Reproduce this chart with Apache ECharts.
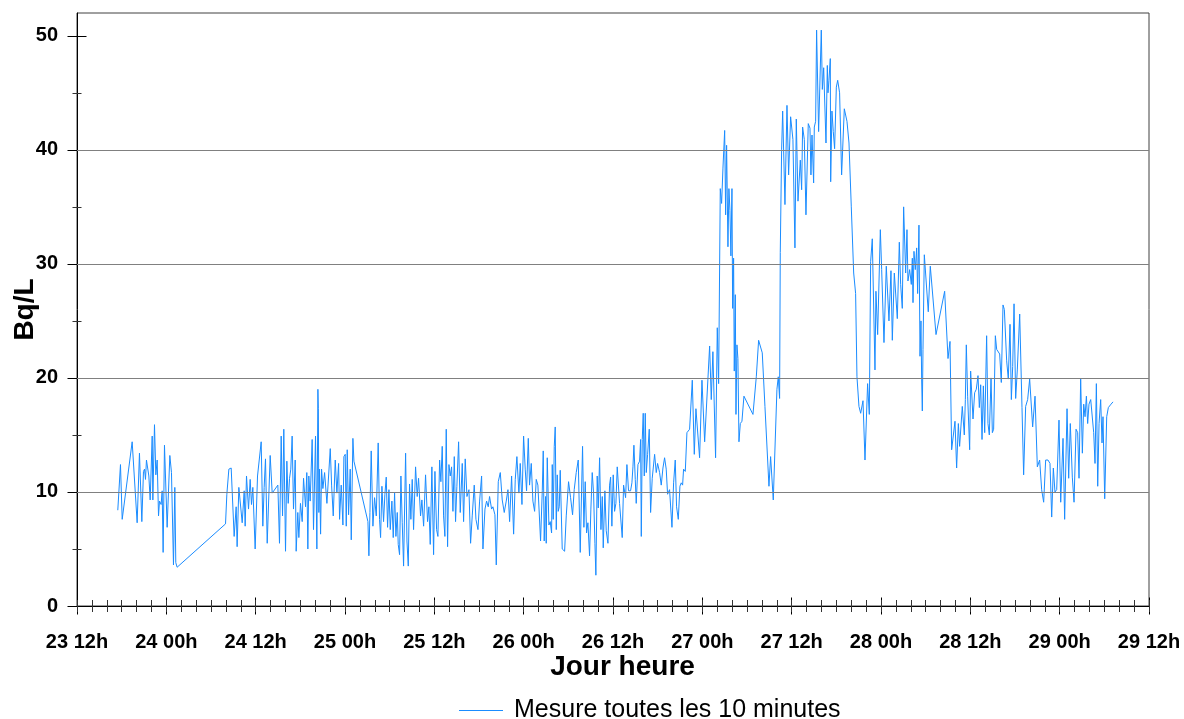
<!DOCTYPE html>
<html>
<head>
<meta charset="utf-8">
<script src="https://cdn.jsdelivr.net/npm/echarts@6/dist/echarts.min.js"></script>
<style>
html,body{margin:0;padding:0;background:#fff;}
#chart{width:1184px;height:719px;}
</style>
</head>
<body>
<div id="chart"></div>
<script>
// Hours counted from day 23 00h
const hours = [
17.48,17.71,17.84,17.93,18.07,19.41,20.08,20.39,20.71,20.93,21.07,21.20,21.33,21.65,21.83,22.10,22.19,22.41,22.59,22.77,22.95,23.08,23.30,23.44,23.57,23.75,24.11,24.29,24.47,24.69,24.83,24.96,25.14,25.27,25.45,
31.95,32.13,32.40,32.71,32.89,33.11,33.38,33.51,33.74,33.87,34.19,34.46,34.59,34.77,35.04,35.26,35.44,35.62,35.93,36.25,36.74,36.96,37.14,37.32,37.55,37.95,38.22,38.98,39.20,39.43,39.61,39.78,40.01,40.19,40.37,40.55,40.72,40.90,41.08,41.31,41.44,41.66,41.80,42.02,42.25,42.43,42.70,42.87,43.01,43.14,43.32,43.59,43.77,44.04,44.22,44.36,44.42,
44.49,44.58,44.72,44.85,45.03,45.26,45.57,46.02,46.20,46.42,46.69,46.91,47.14,47.27,47.49,47.72,47.85,48.03,48.17,48.30,48.48,48.70,48.84,49.06,49.20,
51.08,51.21,51.35,51.52,51.75,51.97,52.20,52.46,52.64,52.78,52.96,53.18,53.36,53.54,53.72,53.90,54.08,54.30,54.48,54.66,54.84,55.02,55.15,55.33,55.51,55.69,55.87,56.14,56.32,56.50,56.67,56.85,57.03,57.21,57.48,57.70,57.88,58.15,58.33,58.56,58.82,59.09,59.27,59.45,59.67,59.90,
60.08,60.30,60.48,60.71,60.88,61.06,61.24,61.42,61.60,61.78,61.96,62.14,62.32,62.50,62.68,62.85,63.03,63.26,63.48,63.75,63.93,64.15,64.38,64.65,64.87,65.09,65.36,65.59,65.86,66.08,66.35,66.53,66.80,67.02,67.24,67.42,67.69,67.87,68.14,68.32,68.59,68.86,69.12,69.39,69.66,69.89,70.11,70.38,70.65,70.87,71.09,71.36,71.54,71.77,71.99,72.21,72.39,72.62,
72.79,73.02,73.24,73.47,73.69,73.91,74.14,74.27,74.50,74.63,74.76,74.94,75.03,75.17,75.39,75.57,75.75,75.84,75.97,76.11,76.24,76.38,76.51,76.64,76.78,76.91,77.18,77.50,77.72,78.03,78.30,78.57,78.79,79.06,79.33,79.60,79.91,
80.09,80.27,80.45,80.63,80.85,81.03,81.21,81.39,81.57,81.70,81.88,82.02,82.20,82.38,82.56,82.69,82.91,83.09,83.32,83.54,83.68,83.85,84.03,84.21,84.39,84.57,84.88,85.24,85.42,85.69,85.87,86.09,86.36,86.54,86.68,86.81,86.99,87.12,87.35,87.57,87.71,87.80,87.93,88.06,88.20,88.33,88.47,88.65,88.87,89.05,89.27,89.59,89.81,89.99,
90.26,90.48,90.71,90.93,91.15,91.33,91.60,91.74,91.92,92.14,92.36,92.54,92.77,92.99,93.17,93.35,93.48,93.71,93.93,94.29,
94.65,94.92,95.14,95.63,95.95,96.31,96.98,97.20,97.42,97.78,98.01,98.19,98.41,98.59,98.77,99.00,99.13,99.26,99.44,99.57,99.71,99.84,99.98,100.07,100.20,100.29,100.43,100.52,100.65,100.78,100.92,101.10,101.32,101.59,102.80,103.25,103.56,104.05,104.41,104.95,105.17,105.53,106.02,106.20,106.38,
106.47,106.65,106.79,107.10,107.37,107.59,107.86,108.17,108.44,108.62,108.85,109.16,109.34,109.47,109.70,109.92,110.23,110.46,110.59,110.73,110.95,111.04,111.22,111.35,111.62,111.98,112.12,112.30,112.47,112.61,112.79,112.88,113.01,113.19,113.24,113.41,113.59,113.77,114.00,114.18,114.44,114.71,115.07,115.43,115.70,116.01,116.33,116.59,116.77,117.04,117.27,
117.58,117.85,118.20,118.43,118.61,118.83,119.19,119.32,119.55,119.91,120.09,120.22,120.40,120.71,121.07,121.34,121.52,121.79,122.19,122.46,122.64,122.86,123.04,123.31,123.49,123.62,123.85,124.07,124.21,124.30,124.43,124.61,124.79,124.92,125.10,125.24,125.37,125.46,125.55,125.64,125.82,126.04,126.35,126.62,127.39,128.55,129.00,129.27,129.49,129.94,130.16,130.39,130.56,130.92,131.19,131.33,131.46,131.64,131.91,132.04,132.36,132.58,132.80,
133.03,133.21,133.39,133.57,133.75,133.93,134.19,134.37,134.55,134.78,134.96,135.13,135.36,135.54,135.76,135.94,136.16,136.39,136.57,136.88,137.10,137.33,137.51,137.69,137.87,138.09,138.31,138.63,138.94,139.16,139.43,139.70,139.97,140.37,140.69,141.00,141.31,141.58,141.85,142.12,142.43,142.70,142.93,143.15,143.37,143.60,143.91,144.14,144.45,144.67,144.99,145.21,145.43,145.70,145.93,146.20,146.42,146.60,146.82,147.05,147.23,147.41,147.59,147.76,147.94,148.17,148.39,148.57,148.75,148.93,149.11,149.29,149.51,149.69,149.82,150.05,150.32,150.54,150.90,151.17
];
const values = [
8.4,8.5,12.4,12.5,7.6,14.4,7.3,13.4,7.4,11.8,12.0,11.1,12.8,11.4,9.3,14.9,9.3,15.9,11.5,12.8,7.9,9.2,8.9,10.1,4.7,14.1,6.9,7.0,13.2,11.7,11.7,3.6,10.4,3.8,3.4,
7.2,9.8,12.0,12.1,12.2,6.1,8.7,5.2,10.4,10.3,7.3,10.1,7.0,11.4,8.5,11.1,8.9,10.4,5.0,11.4,14.4,7.0,10.4,12.9,5.5,13.2,9.9,10.6,5.5,14.9,7.9,15.5,4.8,12.7,9.0,11.2,12.0,14.9,8.5,12.8,4.8,8.2,6.0,9.0,7.4,11.2,8.7,11.7,5.0,11.4,9.2,14.6,6.7,14.9,5.0,19.0,17.3,
8.2,12.0,6.3,12.0,10.3,11.7,9.0,13.8,10.6,7.9,12.8,9.9,12.5,7.6,10.6,7.1,13.1,13.3,7.0,13.7,8.0,12.0,5.8,14.7,12.7,
7.4,4.4,8.2,13.6,7.0,9.5,7.9,14.3,7.6,6.0,10.5,7.4,9.8,11.3,6.9,10.2,6.7,9.2,6.0,9.9,6.1,8.2,5.4,4.5,11.4,7.3,3.5,13.4,5.7,3.5,10.7,7.6,11.1,6.7,12.2,9.6,11.2,7.9,9.3,7.0,11.5,7.4,8.7,5.4,12.2,4.5,
11.8,6.7,6.1,12.8,10.9,14.0,7.9,6.1,15.5,5.2,12.4,11.4,12.2,8.3,13.1,7.4,10.5,14.4,8.2,12.5,7.4,12.9,9.6,10.2,5.5,7.9,10.6,7.6,6.7,9.2,11.4,5.0,8.5,9.2,8.7,9.6,8.5,8.7,8.0,3.6,10.9,11.7,9.3,8.2,9.2,10.2,7.4,11.4,6.3,11.1,13.1,9.9,12.5,8.9,14.9,12.0,10.1,14.7,
10.6,12.5,9.2,8.3,11.1,10.6,10.6,5.7,10.1,13.6,5.7,9.6,5.5,13.0,7.1,7.4,6.4,12.4,7.6,14.0,15.7,6.7,11.5,8.3,8.7,11.9,5.0,4.8,7.9,10.9,9.5,8.0,10.2,11.7,12.8,4.7,14.0,
6.9,10.9,6.4,7.3,4.4,8.5,11.7,9.9,5.5,2.7,11.4,8.6,13.0,6.7,9.6,5.1,10.1,6.6,5.5,10.6,11.3,7.0,11.5,8.3,9.0,12.2,9.0,6.0,10.6,9.5,12.4,10.1,10.1,10.8,12.2,14.1,11.1,9.0,12.4,12.7,14.6,6.1,14.6,16.9,11.4,16.9,11.7,13.3,15.5,8.2,11.2,13.3,11.7,12.5,
11.7,10.6,12.1,13.0,12.0,9.8,10.2,10.3,6.9,10.8,12.8,8.7,7.6,10.5,10.8,10.6,12.0,11.8,15.2,15.5,
19.8,13.3,17.3,13.0,19.8,14.4,22.8,18.1,22.3,13.0,24.4,19.5,36.6,35.3,38.4,41.7,34.3,40.4,31.5,36.6,34.7,30.7,36.6,26.1,30.5,20.6,27.3,16.8,22.9,21.7,14.4,16.0,16.2,18.4,16.8,20.1,23.3,22.2,17.5,10.5,13.1,9.3,19.0,20.1,18.2,
31.0,40.0,43.4,35.2,43.9,37.8,42.9,40.9,31.4,42.7,35.5,39.1,36.5,42.0,40.9,34.3,42.3,41.9,37.8,41.3,37.1,42.0,42.5,50.5,41.6,50.5,45.3,47.2,47.3,40.6,47.4,45.0,46.1,48.0,37.2,43.4,41.6,40.1,45.5,46.1,45.0,37.8,43.6,42.5,40.6,35.0,29.2,27.4,20.1,17.5,16.9,
18.0,12.8,19.5,16.8,30.2,32.2,20.7,27.6,23.8,33.0,29.5,29.5,23.1,29.8,25.0,29.4,23.3,29.2,25.2,31.9,28.2,26.1,35.0,29.2,33.0,28.5,29.5,28.2,30.5,26.6,31.1,29.5,31.4,27.4,33.4,21.9,25.0,19.9,17.1,22.5,30.8,30.8,25.8,29.8,23.8,27.6,21.7,23.2,13.7,16.2,12.1,16.0,14.0,17.5,15.0,18.1,22.9,18.4,13.7,20.6,16.4,18.7,19.0,
20.2,17.4,19.4,14.6,19.3,15.2,23.7,16.0,15.0,20.0,15.2,15.5,23.7,22.5,22.6,22.1,19.6,26.4,26.0,21.5,19.9,24.7,18.1,21.0,26.5,18.2,20.7,25.6,17.4,11.5,17.5,18.1,19.9,15.7,18.4,12.2,12.8,10.2,9.1,12.8,12.8,12.5,7.8,12.1,10.0,10.2,16.3,9.1,14.7,7.6,17.3,11.2,16.0,11.3,9.1,15.5,15.2,11.2,19.9,13.4,17.7,16.6,18.4,16.0,17.7,18.1,18.2,15.2,12.5,19.5,10.5,16.0,18.1,14.3,16.6,9.4,16.6,17.4,17.7,17.9
];
const seriesName = 'Mesure toutes les 10 minutes';
const xTickLabels = ['23 12h','24 00h','24 12h','25 00h','25 12h','26 00h','26 12h','27 00h','27 12h','28 00h','28 12h','29 00h','29 12h'];
const yTickValues = [0, 10, 20, 30, 40, 50];
const yMinorTickValues = [5, 15, 25, 35, 45];
const gridValues = [10, 20, 30, 40];

const FONT = 'Liberation Sans';
const X_MIN = 12, X_MAX = 156, Y_MIN = 0, Y_MAX = 52;

const data = hours.map((h, i) => [h, values[i]]);

const baseX = {
  type: 'value', min: X_MIN, max: X_MAX, position: 'bottom',
  splitLine: { show: false }
};
const baseY = {
  type: 'value', min: Y_MIN, max: Y_MAX, position: 'left',
  splitLine: { show: false }
};

const chart = echarts.init(document.getElementById('chart'), null, { renderer: 'canvas' });
chart.setOption({
  animation: false,
  backgroundColor: '#ffffff',
  textStyle: { fontFamily: FONT },
  grid: {
    left: 77, right: 35, top: 13, bottom: 113,
    outerBoundsMode: 'none', containLabel: false,
    show: true, borderColor: '#404040', borderWidth: 1, backgroundColor: 'transparent'
  },
  legend: {
    data: [seriesName],
    left: 454, top: 693,
    icon: 'rect',
    itemWidth: 44, itemHeight: 1,
    itemStyle: { color: '#1a8cff' },
    textStyle: { fontFamily: FONT, fontSize: 25, color: '#000', padding: [0, 0, 0, 6] }
  },
  xAxis: [
    Object.assign({}, baseX, {
      interval: 12,
      axisLine: { show: true, lineStyle: { color: '#000', width: 1 } },
      axisTick: { show: false },
      axisLabel: {
        show: true, margin: 26, fontSize: 20, fontWeight: 'bold', color: '#000', fontFamily: FONT,
        showMinLabel: true, showMaxLabel: true, hideOverlap: false,
        formatter: v => xTickLabels[Math.round((v - X_MIN) / 12)] || ''
      },
      name: 'Jour heure', nameLocation: 'middle', nameGap: 47, nameMoveOverlap: false,
      nameTextStyle: { fontSize: 28, fontWeight: 'bold', color: '#000', fontFamily: FONT, padding: [0, 0, 0, 19] }
    }),
    Object.assign({}, baseX, {
      interval: 12, offset: -8.5,
      axisLine: { show: false },
      axisTick: { show: true, length: 17, lineStyle: { color: '#000', width: 1 } },
      axisLabel: { show: false }
    }),
    Object.assign({}, baseX, {
      interval: 2, offset: -6,
      axisLine: { show: false },
      axisTick: { show: true, length: 12, lineStyle: { color: '#333', width: 1 } },
      axisLabel: { show: false }
    })
  ],
  yAxis: [
    Object.assign({}, baseY, {
      axisLine: { show: true, lineStyle: { color: '#000', width: 1 } },
      axisTick: { show: false },
      axisLabel: {
        show: true, margin: 19, fontSize: 20, fontWeight: 'bold', color: '#000', fontFamily: FONT,
        customValues: yTickValues
      },
      name: 'Bq/L', nameLocation: 'middle', nameGap: 38, nameMoveOverlap: false,
      nameTextStyle: { fontSize: 28, fontWeight: 'bold', color: '#000', fontFamily: FONT }
    }),
    Object.assign({}, baseY, {
      offset: -9.5,
      axisLine: { show: false },
      axisTick: { show: true, length: 19, customValues: yTickValues, lineStyle: { color: '#000', width: 1 } },
      axisLabel: { show: false }
    }),
    Object.assign({}, baseY, {
      offset: -4.5,
      axisLine: { show: false },
      axisTick: { show: true, length: 9, customValues: yMinorTickValues, lineStyle: { color: '#333', width: 1 } },
      axisLabel: { show: false }
    })
  ],
  series: [
    {
      name: 'gridlines', type: 'line', data: [], z: 1, silent: true,
      xAxisIndex: 0, yAxisIndex: 0,
      markLine: {
        silent: true, symbol: ['none', 'none'], animation: false,
        label: { show: false },
        lineStyle: { color: '#808080', type: 'solid', width: 1 },
        data: gridValues.map(v => ({ yAxis: v }))
      }
    },
    {
      name: seriesName, type: 'line', data: data, z: 3,
      xAxisIndex: 0, yAxisIndex: 0,
      symbol: 'none', showSymbol: false,
      lineStyle: { color: '#1a8cff', width: 1 },
      itemStyle: { color: '#1a8cff' }
    }
  ]
});
</script>
</body>
</html>
